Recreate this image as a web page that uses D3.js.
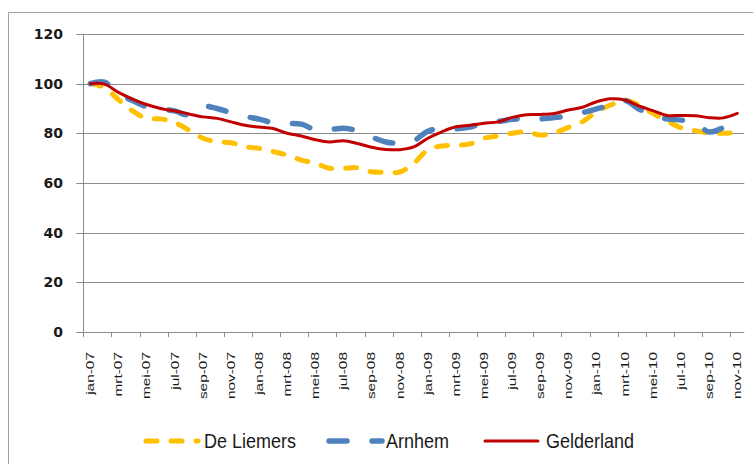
<!DOCTYPE html>
<html>
<head>
<meta charset="utf-8">
<script src="https://cdn.jsdelivr.net/npm/d3@7"></script>
<style>
  body { margin: 0; background: #fff; }
  .ylab { font-family: "DejaVu Sans", sans-serif; font-weight: bold; font-size: 14px; fill: #1a1a1a; }
  .xlab { font-family: "Liberation Sans", Arial, sans-serif; font-size: 11px; fill: #1a1a1a; }
  .leg { font-family: "Liberation Sans", Arial, sans-serif; font-size: 20px; fill: #1a1a1a; }
</style>
</head>
<body>
<div id="chart"></div>
<script>
// index (jan 2007 = 100), monthly jan-07 .. nov-10
var monthNames = ['jan', 'feb', 'mrt', 'apr', 'mei', 'jun', 'jul', 'aug', 'sep', 'okt', 'nov', 'dec'];
var years = ['07', '08', '09', '10'];

var deLiemers = [
  100, 98.5, 93.5, 89.0, 86.0, 85.8, 84.3, 81.3, 78.0, 76.6, 76.2, 74.6,
  73.9, 72.6, 71.2, 69.2, 67.9, 65.9, 65.9, 66.1, 64.5, 64.3, 64.4, 67.9,
  73.3, 74.9, 75.1, 75.7, 78.0, 78.9, 80.0, 80.6, 79.3, 80.2, 82.4, 84.7,
  88.7, 91.4, 93.4, 91.4, 88.0, 85.0, 82.2, 81.0, 80.1, 80.0, 80.2
];
var arnhem = [
  100, 100.6, 96.0, 93.2, 90.7, 89.8, 89.0, 87.4, 90.8, 90.0, 88.3, 86.8,
  85.7, 84.2, 84.0, 83.7, 81.4, 81.5, 82.0, 81.0, 78.5, 76.5, 76.0, 77.0,
  80.8, 82.0, 81.8, 82.5, 84.3, 84.8, 85.6, 85.9, 85.8, 86.3, 87.1, 88.3,
  89.8, 91.4, 93.2, 89.8, 87.2, 85.8, 85.3, 84.4, 80.5, 82.3, 85.7
];
var gelderland = [
  100, 99.8, 96.5, 93.8, 91.6, 90.0, 89.0, 87.8, 86.6, 86.0, 84.6, 83.2,
  82.5, 81.9, 80.0, 78.9, 77.4, 76.5, 77.0, 75.9, 74.4, 73.5, 73.4, 74.5,
  78.0, 80.6, 82.6, 83.2, 84.0, 84.6, 86.4, 87.5, 87.6, 88.0, 89.4, 90.5,
  92.7, 93.9, 93.4, 91.0, 89.1, 87.2, 87.2, 87.1, 86.3, 86.2, 88.0
];
var yTicks = [0, 20, 40, 60, 80, 100, 120];

// build the month labels
var months = [];
years.forEach(function(yr) {
  monthNames.forEach(function(m) { months.push(m + '-' + yr); });
});
months = months.slice(0, deLiemers.length);

var svgWidth = 753, svgHeight = 464;
var plot = {left: 83.3, right: 744.3, top: 34, bottom: 331.8};

var svg = d3.select('#chart').append('svg')
  .attr('width', svgWidth)
  .attr('height', svgHeight);

// outer chart border
svg.append('rect')
  .attr('x', 8.5).attr('y', 12.5)
  .attr('width', 800).attr('height', 500)
  .attr('fill', 'none')
  .attr('stroke', '#a0a0a0');

var x = d3.scaleBand()
  .domain(months)
  .range([plot.left, plot.right]);

var y = d3.scaleLinear()
  .domain([0, 120])
  .range([plot.bottom, plot.top]);

function cx(i) { return x(months[i]) + x.bandwidth() / 2; }

// gridlines + y ticks
svg.append('g').selectAll('line')
  .data(yTicks)
  .enter().append('line')
  .attr('x1', plot.left - 7)
  .attr('x2', plot.right)
  .attr('y1', function(d) { return Math.round(y(d)) + 0.5; })
  .attr('y2', function(d) { return Math.round(y(d)) + 0.5; })
  .attr('stroke', '#8c8c8c')
  .attr('stroke-width', 1);

svg.append('g').selectAll('text')
  .data(yTicks)
  .enter().append('text')
  .attr('class', 'ylab')
  .attr('x', 63)
  .attr('y', function(d) { return y(d); })
  .attr('dy', '0.36em')
  .attr('text-anchor', 'end')
  .text(function(d) { return d; });

// y axis line
svg.append('line')
  .attr('x1', Math.round(plot.left) + 0.5).attr('x2', Math.round(plot.left) + 0.5)
  .attr('y1', plot.top).attr('y2', plot.bottom)
  .attr('stroke', '#8c8c8c');

// x ticks every 2 months, between categories
var tickMonths = months.filter(function(d, i) { return i % 2 === 0; });
svg.append('g').selectAll('line')
  .data(tickMonths)
  .enter().append('line')
  .attr('x1', function(d) { return Math.round(x(d)) + 0.5; })
  .attr('x2', function(d) { return Math.round(x(d)) + 0.5; })
  .attr('y1', Math.round(plot.bottom))
  .attr('y2', Math.round(plot.bottom) + 5)
  .attr('stroke', '#8c8c8c');

// rotated labels, stretched along the text like the original
svg.append('g').selectAll('text')
  .data(tickMonths)
  .enter().append('text')
  .attr('class', 'xlab')
  .attr('transform', function(d) {
    return 'translate(' + (x(d) + x.bandwidth() / 2) + ',352) rotate(-90) scale(1.4,1)';
  })
  .attr('dy', '0.35em')
  .attr('text-anchor', 'end')
  .text(function(d) { return d; });

// series
var line = d3.line()
  .x(function(d, i) { return cx(i); })
  .y(function(d) { return y(d); })
  .curve(d3.curveCatmullRom.alpha(0.5));

var series = [
  {name: 'De Liemers', values: deLiemers, color: '#FFC000', width: 5, dash: '11,14'},
  {name: 'Arnhem', values: arnhem, color: '#4F81BD', width: 5.5, dash: '18,25'},
  {name: 'Gelderland', values: gelderland, color: '#C00000', width: 3, dash: null}
];

series.forEach(function(s) {
  svg.append('path')
    .datum(s.values)
    .attr('fill', 'none')
    .attr('stroke', s.color)
    .attr('stroke-width', s.width)
    .attr('stroke-linecap', 'round')
    .attr('stroke-linejoin', 'round')
    .attr('stroke-dasharray', s.dash)
    .attr('d', line);
});

// legend
var legendY = 441;
var legendPos = [
  {x1: 146, x2: 198, tx: 204},
  {x1: 329, x2: 382, tx: 386},
  {x1: 485, x2: 538, tx: 546}
];
series.forEach(function(s, i) {
  var p = legendPos[i];
  svg.append('line')
    .attr('x1', p.x1).attr('x2', p.x2)
    .attr('y1', legendY).attr('y2', legendY)
    .attr('stroke', s.color)
    .attr('stroke-width', s.width)
    .attr('stroke-linecap', 'round')
    .attr('stroke-dasharray', s.dash);
  svg.append('text')
    .attr('class', 'leg')
    .attr('transform', 'translate(' + p.tx + ',' + legendY + ') scale(0.9,1)')
    .attr('dy', '0.36em')
    .text(s.name);
});
</script>
</body>
</html>
